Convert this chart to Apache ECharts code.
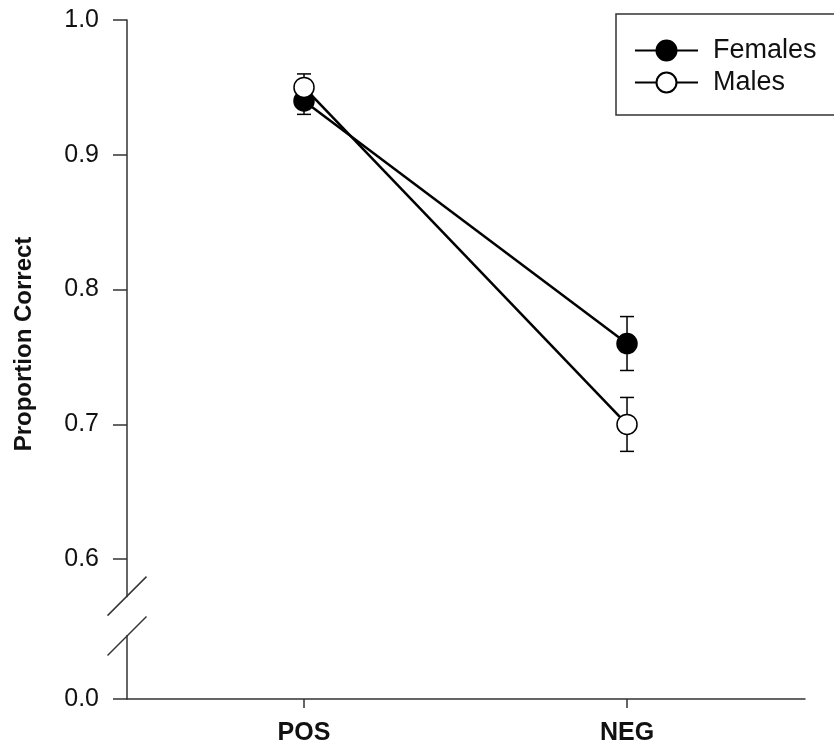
<!DOCTYPE html>
<html>
<head>
<meta charset="utf-8">
<script src="https://cdn.jsdelivr.net/npm/echarts@6/dist/echarts.min.js"></script>
<style>
  html, body { margin: 0; padding: 0; background: #fff; }
  #chart { width: 834px; height: 755px; }
</style>
</head>
<body>
<div id="chart"></div>
<script>
// data
var categories = ['POS', 'NEG']
var females = [0.94, 0.76]
var femalesErr = [0.01, 0.02]
var males = [0.95, 0.70]
var malesErr = [0.01, 0.02]
var yTicks = [0.0, 0.6, 0.7, 0.8, 0.9, 1.0]

// broken axis: the 0.0 - 0.6 stretch is squeezed to about one tick step
var breakFrom = 0.6
var squeeze = 0.1037 / 0.6
function toAxis(v) {
  return v >= breakFrom ? v : breakFrom - (breakFrom - v) * squeeze
}
function fromAxis(a) {
  var v = a >= breakFrom - 1e-6 ? a : breakFrom - (breakFrom - a) / squeeze
  return Math.abs(Math.round(v * 10) / 10)
}
var yMin = toAxis(yTicks[0])
var yTickPos = yTicks.map(toAxis)

function points(vals) {
  return vals.map(function (v, i) { return [i + 1, toAxis(v)] })
}
function errs(vals, e) {
  return vals.map(function (v, i) { return [i + 1, toAxis(v - e[i]), toAxis(v + e[i])] })
}

var axisColor = '#333'
var myChart = echarts.init(document.getElementById('chart'))

function renderErr(params, api) {
  var x = api.value(0)
  var lo = api.coord([x, api.value(1)])
  var hi = api.coord([x, api.value(2)])
  var w = 7
  var st = { stroke: '#000', lineWidth: 1.5 }
  return {
    type: 'group',
    children: [
      { type: 'line', shape: { x1: lo[0], y1: lo[1], x2: hi[0], y2: hi[1] }, style: st },
      { type: 'line', shape: { x1: lo[0] - w, y1: lo[1], x2: lo[0] + w, y2: lo[1] }, style: st },
      { type: 'line', shape: { x1: hi[0] - w, y1: hi[1], x2: hi[0] + w, y2: hi[1] }, style: st }
    ]
  }
}

var option = {
  animation: false,
  grid: { left: 127, right: 29, top: 20, bottom: 56 },
  legend: {
    orient: 'vertical',
    left: 616,
    top: 14,
    padding: [23, 30, 19, 18],
    itemWidth: 63,
    itemHeight: 25,
    itemGap: 5,
    borderColor: '#333',
    borderWidth: 1.5,
    textStyle: { fontFamily: 'Liberation Sans, Arial', fontSize: 27, color: '#111', padding: [0, 0, 0, 10] },
    data: ['Females', 'Males']
  },
  xAxis: {
    type: 'value',
    min: 0.452,
    max: 2.551,
    splitLine: { show: false },
    axisLine: { lineStyle: { color: axisColor, width: 1.5 } },
    axisTick: { customValues: [1, 2], length: 9, lineStyle: { color: axisColor, width: 1.5 } },
    axisLabel: {
      customValues: [1, 2],
      margin: 22,
      fontFamily: 'Liberation Sans, Arial',
      fontSize: 25,
      fontWeight: 'bold',
      color: '#111',
      formatter: function (v) { return categories[Math.round(v) - 1] }
    }
  },
  yAxis: {
    type: 'value',
    min: yMin,
    max: 1.0,
    splitLine: { show: false },
    axisLine: { show: true, lineStyle: { color: axisColor, width: 1.5 } },
    axisTick: { show: true, customValues: yTickPos, length: 14, lineStyle: { color: axisColor, width: 1.5 } },
    axisLabel: {
      customValues: yTickPos,
      margin: 28,
      fontFamily: 'Liberation Sans, Arial',
      fontSize: 25,
      color: '#111',
      formatter: function (v) { return fromAxis(v).toFixed(1) }
    }
  },
  series: [
    {
      name: 'err',
      type: 'custom',
      z: 1,
      renderItem: renderErr,
      data: errs(females, femalesErr).concat(errs(males, malesErr))
    },
    {
      name: 'Females',
      type: 'line',
      z: 3,
      data: points(females),
      symbol: 'circle',
      symbolSize: 20,
      lineStyle: { color: '#000', width: 2.5 },
      itemStyle: { color: '#000', borderColor: '#000', borderWidth: 1.5 }
    },
    {
      name: 'Males',
      type: 'line',
      z: 4,
      data: points(males),
      symbol: 'circle',
      symbolSize: 20,
      lineStyle: { color: '#000', width: 2.5 },
      itemStyle: { color: '#fff', borderColor: '#000', borderWidth: 1.5 }
    }
  ]
}

myChart.setOption(option)

// axis break marks and the rotated axis title
var axisX = myChart.convertToPixel({ xAxisIndex: 0 }, 0.452)
var breakA = myChart.convertToPixel({ yAxisIndex: 0 }, 0.5726)
var breakB = myChart.convertToPixel({ yAxisIndex: 0 }, 0.5430)
var s = 19.5
myChart.setOption({
  graphic: [
    { type: 'rect', z: 100, shape: { x: axisX - 3, y: breakA + 1, width: 6, height: breakB - breakA - 2 }, style: { fill: '#fff' } },
    { type: 'line', z: 101, shape: { x1: axisX - s, y1: breakA + s, x2: axisX + s, y2: breakA - s }, style: { stroke: axisColor, lineWidth: 1.5 } },
    { type: 'line', z: 101, shape: { x1: axisX - s, y1: breakB + s, x2: axisX + s, y2: breakB - s }, style: { stroke: axisColor, lineWidth: 1.5 } },
    {
      type: 'text', z: 101, x: 24, y: 344, rotation: Math.PI / 2,
      style: { text: 'Proportion Correct', fontFamily: 'Liberation Sans, Arial', fontSize: 24, fontWeight: 'bold', fill: '#111', align: 'center', verticalAlign: 'middle' }
    }
  ]
})
</script>
</body>
</html>
